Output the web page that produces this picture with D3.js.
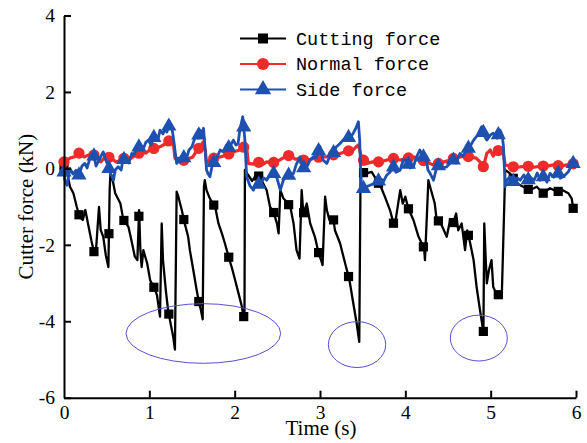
<!DOCTYPE html>
<html>
<head>
<meta charset="utf-8">
<script src="https://cdn.jsdelivr.net/npm/d3@7"></script>
<style>
  html, body { margin: 0; padding: 0; background: #fff; }
  svg { display: block; }
</style>
</head>
<body>
<svg id="chart" width="587" height="443"></svg>
<script>
// ---------------- DATA ----------------
const seriesNames = ["Cutting force", "Normal force", "Side force"];
const xTicks = [0, 1, 2, 3, 4, 5, 6];
const yTicks = [-6, -4, -2, 0, 2, 4];
const markerStep = 0.1755; // seconds between plotted symbols

// [time (s), force (kN)]
const cuttingForce = [
  [0,0.0],[0.03,-0.04],[0.07,-0.48],[0.11,-0.65],[0.15,-1.01],[0.18,-1.25],[0.22,-1.35],[0.25,-1.09],
  [0.28,-1.43],[0.32,-1.88],[0.35,-2.18],[0.375,-2.14],[0.41,-1.01],[0.43,-1.61],[0.46,-1.79],[0.49,-2.27],
  [0.52,-2.58],[0.535,-0.57],[0.545,-0.10],[0.575,-0.36],[0.60,-0.65],[0.66,-0.91],[0.695,-1.34],[0.755,-1.53],
  [0.79,-1.88],[0.83,-2.31],[0.86,-2.40],[0.88,-1.09],[0.895,-2.14],[0.91,-2.58],[0.93,-2.14],[0.975,-2.49],
  [1.01,-2.93],[1.06,-3.14],[1.09,-3.32],[1.125,-3.88],[1.145,-1.44],[1.16,-2.40],[1.195,-3.23],[1.22,-3.71],
  [1.24,-3.95],[1.28,-4.41],[1.30,-4.74],[1.32,-0.61],[1.34,-0.74],[1.38,-1.09],[1.41,-1.40],[1.455,-1.79],
  [1.475,-2.14],[1.515,-2.66],[1.555,-3.19],[1.58,-3.49],[1.605,-3.71],[1.625,-3.95],[1.64,-0.48],[1.65,-0.31],
  [1.67,-0.57],[1.70,-0.74],[1.745,-0.94],[1.77,-0.99],[1.81,-1.44],[1.85,-1.70],[1.885,-1.96],[1.94,-2.40],
  [1.965,-2.58],[2.005,-2.92],[2.045,-3.27],[2.085,-3.62],[2.10,-3.85],[2.115,-3.92],[2.12,-0.04],[2.16,-0.18],
  [2.205,-0.33],[2.26,-0.13],[2.315,-0.31],[2.375,-0.57],[2.415,-1.01],[2.455,-1.14],[2.495,-1.44],[2.515,-1.70],
  [2.535,-0.57],[2.57,-0.78],[2.62,-0.90],[2.655,-1.04],[2.69,-1.44],[2.725,-2.14],[2.76,-2.36],[2.785,-0.57],
  [2.805,-1.18],[2.845,-0.92],[2.885,-1.44],[2.94,-1.79],[2.98,-2.18],[3.02,-2.45],[3.03,-2.53],[3.06,-0.74],
  [3.08,-1.09],[3.11,-1.35],[3.155,-1.28],[3.175,-1.62],[3.235,-1.96],[3.295,-2.49],[3.345,-2.92],[3.39,-3.53],
  [3.43,-4.06],[3.46,-4.54],[3.475,-0.22],[3.49,-0.10],[3.545,-0.13],[3.605,-0.09],[3.665,-0.31],[3.72,-0.52],
  [3.76,-0.74],[3.82,-1.09],[3.87,-1.51],[3.89,-1.30],[3.94,-0.57],[3.97,-0.92],[4.0,-0.74],[4.035,-1.05],
  [4.095,-1.35],[4.155,-1.79],[4.22,-2.09],[4.23,-2.40],[4.27,-0.31],[4.29,-0.48],[4.345,-0.92],[4.365,-1.31],
  [4.425,-1.48],[4.485,-1.79],[4.525,-1.35],[4.56,-1.44],[4.595,-1.18],[4.62,-1.62],[4.66,-1.44],[4.70,-2.14],
  [4.725,-1.62],[4.76,-1.96],[4.80,-2.40],[4.835,-3.10],[4.875,-3.71],[4.915,-4.28],[4.925,-1.44],[4.94,-2.27],
  [4.955,-3.01],[4.98,-2.66],[5.01,-2.40],[5.03,-3.10],[5.065,-3.27],[5.10,-3.32],[5.13,-3.36],[5.16,-0.92],
  [5.17,-0.04],[5.225,-0.13],[5.305,-0.39],[5.38,-0.48],[5.46,-0.57],[5.54,-0.48],[5.615,-0.65],[5.695,-0.52],
  [5.78,-0.61],[5.845,-0.57],[5.91,-0.65],[5.95,-0.79],[5.97,-1.09],[6.0,-1.05]
];

const normalForce = [
  [0,0.17],[0.035,0.22],[0.07,0.27],[0.12,0.30],[0.175,0.40],[0.235,0.30],[0.29,0.35],[0.34,0.37],
  [0.39,0.27],[0.43,0.17],[0.49,0.32],[0.55,0.27],[0.61,0.17],[0.67,0.22],[0.73,0.30],[0.785,0.27],
  [0.845,0.35],[0.90,0.43],[0.96,0.40],[1.02,0.51],[1.08,0.53],[1.14,0.58],[1.185,0.64],[1.24,0.74],
  [1.28,0.71],[1.30,0.27],[1.335,0.17],[1.38,0.19],[1.44,0.24],[1.51,0.30],[1.56,0.48],[1.595,0.56],
  [1.63,0.69],[1.655,0.48],[1.67,0.14],[1.71,0.22],[1.76,0.27],[1.83,0.30],[1.905,0.35],[1.98,0.43],
  [2.06,0.48],[2.11,0.56],[2.14,0.57],[2.16,0.13],[2.22,0.11],[2.275,0.17],[2.32,0.09],[2.375,0.17],
  [2.44,0.14],[2.53,0.22],[2.59,0.30],[2.65,0.35],[2.71,0.24],[2.765,0.26],[2.835,0.19],[2.92,0.26],
  [3.0,0.30],[3.08,0.30],[3.15,0.35],[3.235,0.39],[3.315,0.45],[3.39,0.48],[3.42,0.56],[3.45,0.61],
  [3.47,0.43],[3.49,0.26],[3.545,0.13],[3.62,0.17],[3.705,0.17],[3.785,0.22],[3.86,0.26],[3.94,0.22],
  [4.015,0.26],[4.09,0.30],[4.17,0.26],[4.24,0.17],[4.33,0.09],[4.405,0.14],[4.485,0.19],[4.56,0.26],
  [4.64,0.30],[4.71,0.32],[4.76,0.30],[4.83,0.27],[4.875,0.17],[4.915,0.04],[4.955,0.39],[4.995,0.48],
  [5.03,0.32],[5.065,0.45],[5.11,0.48],[5.145,0.43],[5.17,0.09],[5.23,0.06],[5.285,0.03],[5.345,0.04],
  [5.425,0.06],[5.51,0.03],[5.58,0.06],[5.66,0.06],[5.735,0.09],[5.815,0.06],[5.895,0.09],[5.99,0.13],[6.0,0.16]
];

const sideForce = [
  [0,-0.10],[0.01,-0.31],[0.035,-0.44],[0.07,0.0],[0.105,-0.15],[0.14,-0.05],[0.175,-0.18],[0.21,0.06],
  [0.245,0.13],[0.27,0.01],[0.305,0.27],[0.345,0.39],[0.375,0.06],[0.41,0.22],[0.46,0.43],[0.49,0.22],
  [0.52,0.04],[0.54,-0.10],[0.58,-0.31],[0.60,-0.04],[0.635,0.04],[0.67,-0.04],[0.69,0.22],[0.735,0.26],
  [0.76,0.14],[0.795,0.39],[0.82,0.35],[0.855,0.53],[0.89,0.57],[0.925,0.48],[0.96,0.69],[0.99,0.74],
  [1.02,0.61],[1.055,0.82],[1.085,0.83],[1.10,0.74],[1.125,1.0],[1.16,0.90],[1.185,1.05],[1.205,0.95],
  [1.24,1.18],[1.265,1.05],[1.28,0.83],[1.30,0.48],[1.32,0.13],[1.335,0.27],[1.36,0.16],[1.395,0.27],
  [1.44,0.30],[1.465,0.48],[1.50,0.57],[1.525,0.74],[1.555,0.92],[1.57,0.79],[1.595,1.0],[1.62,0.90],
  [1.635,1.05],[1.655,0.48],[1.67,-0.04],[1.69,-0.15],[1.71,-0.22],[1.735,0.06],[1.77,0.22],[1.79,0.27],
  [1.83,0.48],[1.865,0.43],[1.905,0.61],[1.935,0.53],[1.985,0.74],[2.015,0.61],[2.04,0.65],[2.06,1.0],
  [2.095,1.35],[2.12,0.74],[2.14,-0.22],[2.18,-0.46],[2.22,-0.57],[2.25,-0.38],[2.30,-0.44],[2.34,-0.25],
  [2.375,-0.31],[2.415,-0.17],[2.455,-0.13],[2.495,-0.25],[2.535,-0.57],[2.57,-0.31],[2.61,-0.20],[2.65,-0.17],
  [2.69,-0.13],[2.72,0.09],[2.765,0.30],[2.80,0.01],[2.845,0.04],[2.885,0.22],[2.92,0.30],[2.955,0.27],
  [3.0,0.57],[3.035,0.22],[3.08,0.13],[3.12,0.35],[3.155,0.39],[3.19,0.56],[3.235,0.65],[3.27,0.74],
  [3.315,0.83],[3.35,0.79],[3.39,0.92],[3.42,1.05],[3.45,1.22],[3.465,0.74],[3.475,0.04],[3.49,-0.57],
  [3.53,-0.49],[3.585,-0.44],[3.645,-0.38],[3.705,-0.31],[3.74,-0.36],[3.78,-0.18],[3.82,-0.10],[3.86,0.04],
  [3.89,-0.10],[3.94,-0.04],[3.975,0.22],[4.015,0.22],[4.055,0.01],[4.095,0.04],[4.125,0.27],[4.17,0.48],
  [4.205,0.32],[4.25,0.17],[4.265,-0.04],[4.29,-0.13],[4.33,-0.31],[4.36,-0.04],[4.405,0.13],[4.44,0.01],
  [4.485,0.04],[4.525,0.14],[4.56,0.22],[4.595,0.14],[4.64,0.39],[4.675,0.32],[4.72,0.48],[4.76,0.58],
  [4.80,0.74],[4.84,0.85],[4.895,1.09],[4.925,0.85],[4.955,0.74],[4.995,0.87],[5.03,0.92],[5.075,0.79],
  [5.11,1.0],[5.135,0.87],[5.15,0.57],[5.17,-0.48],[5.19,-0.31],[5.225,-0.22],[5.275,-0.38],[5.31,-0.25],
  [5.345,-0.31],[5.39,-0.17],[5.425,-0.36],[5.46,-0.22],[5.51,-0.31],[5.545,-0.12],[5.58,-0.31],[5.625,-0.20],
  [5.66,-0.36],[5.695,-0.13],[5.74,-0.23],[5.775,-0.04],[5.815,-0.26],[5.86,-0.20],[5.91,-0.09],[5.95,0.09],[5.99,0.17]
];

// annotation ellipses: [centre time, centre force, half-width (s), half-height (kN)]
const ellipses = [
  [1.633, -4.32, 0.906, 0.78],
  [3.434, -4.61, 0.336, 0.60],
  [4.861, -4.44, 0.334, 0.60]
];

// ---------------- CHART ----------------
const svg = d3.select("#chart");
const x = d3.scaleLinear().domain([0, 6]).range([64, 576]);
const y = d3.scaleLinear().domain([-6, 4]).range([397.7, 15.5]);

const colors = ["#000000", "#ee2a2a", "#1e50b0"];
const widths = [2.3, 3.2, 2.8];
const symbols = [d3.symbolSquare, d3.symbolCircle, d3.symbolTriangle];
const symSizes = [85, 100, 100];
const allSeries = [cuttingForce, normalForce, sideForce];

const line = d3.line().x(d => x(d[0])).y(d => y(d[1]));

function valueAt(series, t) {
  const i = d3.bisector(d => d[0]).left(series, t);
  if (i <= 0) return series[0][1];
  if (i >= series.length) return series[series.length - 1][1];
  const a = series[i - 1], b = series[i];
  const f = (t - a[0]) / (b[0] - a[0]);
  return a[1] + f * (b[1] - a[1]);
}

const markerTimes = d3.range(0, 6.0001, markerStep);

const plot = svg.append("g");
allSeries.forEach((s, k) => {
  const g = plot.append("g");
  g.append("path")
    .datum(s)
    .attr("fill", "none")
    .attr("stroke", colors[k])
    .attr("stroke-width", widths[k])
    .attr("stroke-linejoin", "round")
    .attr("d", line);
  const last = s[s.length - 1][0];
  g.selectAll("path.sym")
    .data(markerTimes.filter(t => t <= last))
    .enter().append("path")
    .attr("class", "sym")
    .attr("transform", t => `translate(${x(t)},${y(valueAt(s, t))})`)
    .attr("d", d3.symbol().type(symbols[k]).size(symSizes[k]))
    .attr("fill", colors[k]);
});

// ellipses
svg.append("g").selectAll("ellipse")
  .data(ellipses)
  .enter().append("ellipse")
  .attr("cx", d => x(d[0]))
  .attr("cy", d => y(d[1]))
  .attr("rx", d => x(d[2]) - x(0))
  .attr("ry", d => y(0) - y(d[3]))
  .attr("fill", "none")
  .attr("stroke", "#5a4fd0")
  .attr("stroke-width", 1);

// axes
const xAxis = d3.axisBottom(x).tickValues(xTicks).tickSizeInner(-7).tickSizeOuter(0).tickPadding(7).tickFormat(d3.format("d"));
const yAxis = d3.axisLeft(y).tickValues(yTicks).tickSizeInner(-7).tickSizeOuter(0).tickPadding(9).tickFormat(d3.format("d"));

const gx = svg.append("g").attr("transform", `translate(0,${y(-6)})`).call(xAxis);
const gy = svg.append("g").attr("transform", `translate(${x(0)},0)`).call(yAxis);
[gx, gy].forEach(g => {
  g.select(".domain").attr("stroke", "#000").attr("stroke-width", 2);
  g.selectAll(".tick line").attr("stroke", "#000").attr("stroke-width", 2);
  g.selectAll(".tick text")
    .attr("font-family", "'Liberation Serif', 'Times New Roman', serif")
    .attr("font-size", 19.5)
    .attr("fill", "#000");
});
gx.selectAll(".tick text").attr("dy", "0.71em");
gy.selectAll(".tick text").text(d => d < 0 ? "-" + Math.abs(d) : d);
gx.selectAll(".tick").filter(d => d === 0).select("line").remove();

// axis titles
svg.append("text")
  .attr("x", 321).attr("y", 435)
  .attr("text-anchor", "middle")
  .attr("font-family", "'Liberation Serif', 'Times New Roman', serif")
  .attr("font-size", 21)
  .text("Time (s)");

svg.append("text")
  .attr("transform", `translate(33,${(y(4) + y(-6)) / 2}) rotate(-90)`)
  .attr("text-anchor", "middle")
  .attr("font-family", "'Liberation Serif', 'Times New Roman', serif")
  .attr("font-size", 21)
  .text("Cutter force (kN)");

// legend
const legend = svg.append("g");
seriesNames.forEach((name, k) => {
  const ly = 38.5 + k * 25.5;
  legend.append("line")
    .attr("x1", 240).attr("x2", 286).attr("y1", ly).attr("y2", ly)
    .attr("stroke", colors[k]).attr("stroke-width", 2);
  legend.append("path")
    .attr("transform", `translate(263,${ly})`)
    .attr("d", d3.symbol().type(symbols[k]).size(symSizes[k] + 15))
    .attr("fill", colors[k]);
  legend.append("text")
    .attr("x", 296).attr("y", ly + 6)
    .attr("font-family", "'Liberation Mono', 'DejaVu Sans Mono', monospace")
    .attr("font-size", 18.5)
    .attr("fill", "#000")
    .text(name);
});
</script>
</body>
</html>
